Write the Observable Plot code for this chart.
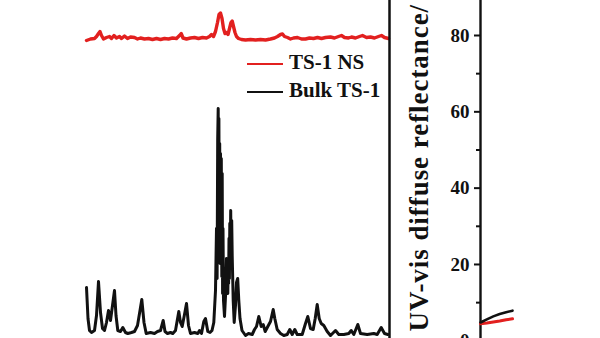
<!DOCTYPE html>
<html>
<head>
<meta charset="utf-8">
<script src="https://cdn.jsdelivr.net/npm/d3@7"></script>
<script src="https://cdn.jsdelivr.net/npm/@observablehq/plot@0.6"></script>
<style>
  html, body { margin: 0; padding: 0; background: #fff; }
  #wrap { position: relative; width: 600px; height: 338px; overflow: hidden; background: #fff;
          font-family: "Liberation Serif", "Times New Roman", serif; font-weight: bold; }
  #wrap svg { position: absolute; left: 0; top: 0; background: transparent; }
  .row { position: absolute; left: 247px; height: 28px; width: 200px; }
  .row .sw { position: absolute; left: 0; top: 14.8px; width: 36px; height: 2.5px; }
  .row .lb { position: absolute; left: 42px; top: 0; font-size: 21px; line-height: 28px; color: #111; white-space: nowrap; }
</style>
</head>
<body>
<div id="wrap"></div>
<script>
// ---------- XRD panel (left): 2theta (deg) vs intensity (a.u., stacked) ----------
const bulkTheta = [8.6,8.75,8.9,9.1,9.4,9.6,9.8,10.0,10.2,10.4,10.6,10.8,11.0,11.2,11.4,11.55,11.73,12.0,12.23,12.5,12.73,13.1,13.4,13.7,13.95,14.13,14.35,14.57,15.0,15.4,15.7,16.0,16.27,16.45,16.7,17.0,17.23,17.5,17.83,18.0,18.17,18.4,18.6,18.8,19.0,19.4,19.73,19.9,20.1,20.33,20.5,20.73,20.95,21.15,21.33,21.5,21.6,21.66,21.72,21.77,21.8,21.84,21.88,21.92,21.96,22.0,22.04,22.08,22.13,22.17,22.21,22.25,22.3,22.4,22.52,22.6,22.65,22.69,22.73,22.77,22.81,22.85,22.89,22.93,22.97,23.02,23.07,23.12,23.17,23.27,23.37,23.5,23.6,23.72,23.83,23.95,24.15,24.5,24.8,25.17,25.4,25.6,25.83,26.07,26.27,26.47,26.73,27.0,27.27,27.43,27.67,28.0,28.33,28.67,28.93,29.17,29.43,29.67,30.17,30.5,30.73,31.0,31.27,31.47,31.67,31.87,32.07,32.33,32.67,33.0,33.5,33.83,34.33,34.83,35.07,35.33,35.73,36.0,36.67,37.33,37.67,38.07,38.4,38.73];
const bulkIntensity = [51,20,8,6,8,23,57,26,10,8,16,28,18,33,48,23,8,7,11,6,5,6,7,13,28,39,16,5,6,5,7,8,18,7,5,6,5,8,27,16,12,24,35,13,5,6,5,8,5,17,20,7,6,8,16,48,110,60,200,230,130,220,95,195,75,185,85,180,62,165,45,110,38,22,46,80,48,78,45,70,55,100,60,115,70,128,75,118,83,38,16,33,56,60,38,20,8,3,5,4,9,12,22,12,14,7,12,17,29,20,9,5,3,4,9,4,9,4,4,15,22,10,9,20,34,20,15,13,7,3,8,4,4,5,8,4,14,5,4,5,4,11,5,4];

const nsTheta = [8.6,9.0,9.4,9.6,9.8,9.95,10.1,10.3,10.6,10.9,11.1,11.35,11.6,11.9,12.1,12.4,12.7,13.0,13.4,13.7,14.0,14.4,14.8,15.2,15.6,16.0,16.4,16.8,17.2,17.6,17.9,18.07,18.25,18.6,19.0,19.4,19.8,20.2,20.6,20.9,21.1,21.3,21.5,21.7,21.85,22.0,22.15,22.3,22.45,22.6,22.75,22.9,23.05,23.17,23.3,23.45,23.6,23.8,24.1,24.5,25.0,25.5,26.0,26.5,27.0,27.4,27.7,28.0,28.2,28.4,28.7,29.0,29.3,29.7,30.1,30.5,30.9,31.3,31.7,32.1,32.5,33.0,33.4,33.8,34.1,34.4,34.8,35.1,35.5,35.9,36.2,36.6,37.0,37.4,37.8,38.1,38.4,38.8];
const nsIntensity = [298,299.5,300,302,305,307,303,299.5,301,302,300,303,300.5,302,300,302.5,300,301.5,301,299.5,300.5,299.5,300,299,300,299,300,299.5,300.5,300,303,305,300.5,299.5,300.5,301,300,301,300.5,302,304,302,307,316,324,325.5,320,310,305,306,304,310,316,317.5,312,306,302,300,299,298.5,299,298.5,299,298.5,299.5,300.5,302,304,304.5,302,301,299.5,300.5,301,299.5,299.5,300.5,300,301,300,301,301.5,300.5,302,303,301,300.5,301.5,300.5,302,303,301,301.5,300.5,302,303,301,300];

const xrdDomainX = [8.6, 38.9];
const xrdDomainY = [0, 338];

// ---------- UV-vis panel (right): wavelength (nm) vs diffuse reflectance ----------
const uvWavelength = [200,210,220,230,240,250];
const uvNS   = [4.45,4.66,4.92,5.19,5.50,5.76];
const uvBulk = [4.8,5.6,6.4,7.0,7.5,7.9];
const uvDomainX = [200, 387.5];
const uvDomainY = [0, 89.17];
const uvMajorTicks = [0,20,40,60,80];
const uvMinorTicks = [10,30,50,70];
const uvLabel = "UV-vis diffuse reflectance/";

// legend
const seriesNames = ["TS-1 NS", "Bulk TS-1"];
const seriesColors = ["#e2201f", "#111111"];

const SERIF = "Liberation Serif, Times New Roman, serif";

const bulkData = bulkTheta.map((t, i) => ({t, v: bulkIntensity[i]}));
const nsData = nsTheta.map((t, i) => ({t, v: nsIntensity[i]}));

const left = Plot.plot({
  width: 600, height: 338,
  marginLeft: 86, marginRight: 211, marginTop: 0, marginBottom: 0,
  style: {background: "transparent", overflow: "visible"},
  x: {domain: xrdDomainX, axis: null},
  y: {domain: xrdDomainY, axis: null},
  marks: [
    Plot.line(nsData, {x: "t", y: "v", stroke: seriesColors[0], strokeWidth: 3.4, strokeLinejoin: "round"}),
    Plot.line(bulkData, {x: "t", y: "v", stroke: seriesColors[1], strokeWidth: 3, strokeLinejoin: "round"}),
    Plot.ruleX([xrdDomainX[1]], {stroke: "#111", strokeWidth: 2.5})
  ]
});

const uvNSData = uvWavelength.map((w, i) => ({w, v: uvNS[i]}));
const uvBulkData = uvWavelength.map((w, i) => ({w, v: uvBulk[i]}));

const right = Plot.plot({
  width: 600, height: 338,
  marginLeft: 480, marginRight: 0, marginTop: 0, marginBottom: 0,
  style: {background: "transparent", overflow: "visible", fontFamily: SERIF},
  x: {domain: uvDomainX, axis: null},
  y: {domain: uvDomainY, range: [340.3, 0], axis: null},
  marks: [
    Plot.axisY({ticks: uvMinorTicks, tickSize: 4, strokeWidth: 2, tickFormat: () => "", stroke: "#111", label: null}),
    Plot.axisY({ticks: uvMajorTicks, tickSize: 6, tickPadding: 5, strokeWidth: 2, stroke: "#111",
                tickFormat: d => String(d), fontSize: 19, fontWeight: "bold", fontFamily: SERIF, fill: "#111", label: null}),
    Plot.ruleX([uvDomainX[0]], {stroke: "#111", strokeWidth: 2.4}),
    Plot.line(uvNSData, {x: "w", y: "v", stroke: seriesColors[0], strokeWidth: 3}),
    Plot.line(uvBulkData, {x: "w", y: "v", stroke: seriesColors[1], strokeWidth: 2.6}),
    Plot.text([uvLabel], {frameAnchor: "bottom-left", rotate: -90, textAnchor: "start",
                          dx: -53, dy: -7, fontSize: 27, fontWeight: "bold", fontFamily: SERIF, fill: "#111"})
  ]
});

d3.select(right).selectAll("text")
  .filter(function () { return this.textContent === uvLabel; })
  .style("letter-spacing", "0.95px");

const wrap = document.getElementById("wrap");
wrap.appendChild(left);
wrap.appendChild(right);

seriesNames.forEach((name, i) => {
  const row = document.createElement("div");
  row.className = "row";
  row.style.top = (48 + i * 28) + "px";
  const sw = document.createElement("div");
  sw.className = "sw";
  sw.style.background = seriesColors[i];
  const lb = document.createElement("div");
  lb.className = "lb";
  lb.textContent = name;
  row.appendChild(sw);
  row.appendChild(lb);
  wrap.appendChild(row);
});
</script>
</body>
</html>
